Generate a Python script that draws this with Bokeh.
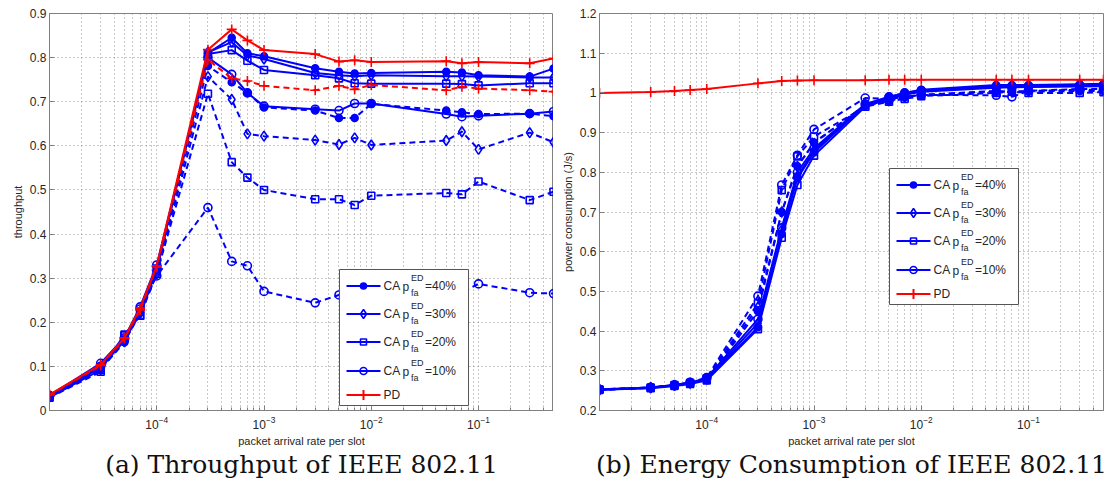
from bokeh.plotting import figure
from bokeh.models import Range1d, FixedTicker, Label, Title
from bokeh.layouts import row
from bokeh.embed import file_html
from bokeh.resources import INLINE
import math

# ---------------- data ----------------
x_rate = [1e-5, 3e-5, 5e-5, 7e-5, 1e-4, 3e-4, 5e-4, 7e-4, 1e-3, 3e-3,
          5e-3, 7e-3, 1e-2, 5e-2, 7e-2, 1e-1, 3e-1, 5e-1]

# (a) throughput
thr_pd      = [0.036, 0.104, 0.165, 0.232, 0.328, 0.818, 0.864, 0.839, 0.817, 0.808, 0.791, 0.794, 0.790, 0.792, 0.787, 0.790, 0.787, 0.798]
thr_pd_d    = [0.035, 0.102, 0.163, 0.228, 0.325, 0.795, 0.753, 0.747, 0.736, 0.726, 0.736, 0.728, 0.738, 0.726, 0.734, 0.730, 0.726, 0.723]
thr_ca40    = [0.033, 0.100, 0.160, 0.225, 0.320, 0.810, 0.845, 0.810, 0.803, 0.776, 0.768, 0.764, 0.765, 0.768, 0.766, 0.760, 0.757, 0.775]
thr_ca30    = [0.032, 0.098, 0.158, 0.222, 0.318, 0.812, 0.835, 0.805, 0.797, 0.765, 0.760, 0.758, 0.760, 0.758, 0.758, 0.757, 0.755, 0.755]
thr_ca20    = [0.030, 0.092, 0.172, 0.215, 0.322, 0.808, 0.817, 0.793, 0.772, 0.760, 0.753, 0.742, 0.741, 0.741, 0.740, 0.737, 0.742, 0.742]
thr_ca10    = [0.034, 0.107, 0.165, 0.235, 0.330, 0.800, 0.762, 0.720, 0.690, 0.683, 0.680, 0.696, 0.696, 0.672, 0.666, 0.668, 0.673, 0.678]
thr_ca40_d  = [0.032, 0.095, 0.155, 0.225, 0.315, 0.781, 0.744, 0.720, 0.687, 0.680, 0.663, 0.663, 0.695, 0.680, 0.676, 0.672, 0.673, 0.667]
thr_ca30_d  = [0.031, 0.093, 0.156, 0.220, 0.310, 0.757, 0.705, 0.627, 0.622, 0.613, 0.603, 0.618, 0.602, 0.612, 0.632, 0.592, 0.630, 0.608]
thr_ca20_d  = [0.029, 0.088, 0.170, 0.215, 0.310, 0.718, 0.563, 0.528, 0.500, 0.479, 0.479, 0.466, 0.487, 0.493, 0.490, 0.519, 0.477, 0.496]
thr_ca10_d  = [0.033, 0.100, 0.160, 0.230, 0.305, 0.460, 0.338, 0.328, 0.270, 0.244, 0.262, 0.265, 0.270, 0.272, 0.268, 0.287, 0.267, 0.265]

# (b) power consumption
pow_pd      = [1.000, 1.002, 1.005, 1.007, 1.010, 1.024, 1.030, 1.031, 1.032, 1.032, 1.033, 1.033, 1.033, 1.033, 1.033, 1.033, 1.033, 1.033]
pow_ca40    = [0.252, 0.257, 0.263, 0.268, 0.278, 0.410, 0.645, 0.785, 0.850, 0.970, 0.990, 1.000, 1.008, 1.020, 1.020, 1.020, 1.022, 1.023]
pow_ca30    = [0.253, 0.258, 0.264, 0.269, 0.280, 0.420, 0.655, 0.790, 0.855, 0.968, 0.988, 0.998, 1.005, 1.017, 1.017, 1.018, 1.020, 1.020]
pow_ca20    = [0.252, 0.256, 0.262, 0.267, 0.276, 0.405, 0.635, 0.768, 0.842, 0.965, 0.985, 0.995, 1.003, 1.013, 1.014, 1.015, 1.016, 1.017]
pow_ca10    = [0.253, 0.258, 0.264, 0.270, 0.282, 0.430, 0.660, 0.800, 0.860, 0.972, 0.990, 1.000, 1.006, 1.015, 1.015, 1.016, 1.018, 1.019]
pow_ca40_d  = [0.252, 0.257, 0.263, 0.269, 0.279, 0.450, 0.700, 0.815, 0.875, 0.968, 0.980, 0.990, 0.995, 1.003, 1.003, 1.004, 1.005, 1.005]
pow_ca30_d  = [0.252, 0.257, 0.263, 0.269, 0.279, 0.460, 0.700, 0.815, 0.873, 0.970, 0.980, 0.990, 0.995, 1.005, 1.002, 1.005, 1.008, 1.008]
pow_ca20_d  = [0.253, 0.258, 0.264, 0.270, 0.281, 0.470, 0.755, 0.840, 0.890, 0.965, 0.978, 0.985, 0.992, 1.000, 1.003, 1.000, 1.000, 1.002]
pow_ca10_d  = [0.253, 0.258, 0.264, 0.271, 0.283, 0.488, 0.768, 0.843, 0.908, 0.987, 0.985, 0.990, 0.995, 0.994, 0.990, 1.005, 1.010, 1.010]

legend_labels = ["40%", "30%", "20%", "10%"]
x_major_ticks = [1e-4, 1e-3, 1e-2, 1e-1]
thr_yticks = [0, 0.1, 0.2, 0.3, 0.4, 0.5, 0.6, 0.7, 0.8, 0.9]
pow_yticks = [0.2, 0.3, 0.4, 0.5, 0.6, 0.7, 0.8, 0.9, 1, 1.1, 1.2]

# ---------------- styling / layout ----------------
BLUE = "#0000ff"
RED = "#ff0000"
FONT = "Liberation Sans"
FW, FH = 504, 397
XMIN, XMAX = 1e-5, 0.5
LX0, LX1 = math.log10(XMIN), math.log10(XMAX)

minor = []
for e in range(-5, 0):
    for m in range(2, 10):
        v = m * 10 ** e
        if XMIN < v < XMAX:
            minor.append(v)

MARKERS = {
    "40%": dict(marker="circle", size=7, fill="full"),
    "30%": dict(marker="diamond", size=10, fill="none"),
    "20%": dict(marker="square", size=7, fill="none"),
    "10%": dict(marker="circle", size=8, fill="none"),
}


def draw_series(p, xs, ys, color, marker, size, fill, dash):
    p.line(xs, ys, line_color=color, line_width=2, line_dash=dash)
    p.scatter(xs, ys, marker=marker, size=size, line_color=color, line_width=1.6,
              fill_color=color if fill == "full" else None)


def make_fig(y0, y1, yticks, ylabel, caption, border_left, border_right, overrides):
    p = figure(x_axis_type="log", x_range=Range1d(XMIN, XMAX), y_range=Range1d(y0, y1),
               frame_width=FW, frame_height=FH, min_border_left=border_left,
               min_border_right=border_right, min_border_top=13, min_border_bottom=71,
               output_backend="svg", toolbar_location=None)
    p.background_fill_color = "white"
    p.border_fill_color = "white"
    p.outline_line_color = "#808080"
    p.outline_line_width = 1
    p.xaxis.ticker = FixedTicker(ticks=x_major_ticks, minor_ticks=minor)
    p.yaxis.ticker = FixedTicker(ticks=yticks)
    p.yaxis.major_label_overrides = overrides
    for ax in (p.xaxis[0], p.yaxis[0]):
        ax.axis_line_color = "#808080"
        ax.major_tick_line_color = "#808080"
        ax.minor_tick_line_color = "#808080"
        ax.major_tick_in = 5
        ax.major_tick_out = 0
        ax.minor_tick_in = 3
        ax.minor_tick_out = 0
        ax.major_label_text_font = FONT
        ax.major_label_text_color = "#262626"
        ax.axis_label_text_font = FONT
        ax.axis_label_text_font_style = "normal"
        ax.axis_label_text_color = "#262626"
        ax.axis_label_text_font_size = "11px"
    p.yaxis.minor_tick_line_color = None
    p.xaxis.major_label_text_font_size = "12px"
    p.yaxis.major_label_text_font_size = "12px"
    p.xaxis.major_label_standoff = 5
    p.yaxis.major_label_standoff = 3
    p.xaxis.axis_label = "packet arrival rate per slot"
    p.xaxis.axis_label_standoff = 3
    p.yaxis.axis_label = ylabel
    p.yaxis.axis_label_standoff = 3
    for g in (p.xgrid, p.ygrid):
        g.grid_line_color = "#909090"
        g.grid_line_dash = "1 3"
        g.grid_line_width = 1
    p.xgrid.minor_grid_line_color = "#909090"
    p.xgrid.minor_grid_line_dash = "1 3"
    p.add_layout(Title(text=caption, align="center", text_font="DejaVu Serif",
                       text_font_size="25px", text_font_style="normal",
                       text_color="#111111", standoff=-4), "below")
    return p


def px2x(px):
    return 10 ** (LX0 + px / FW * (LX1 - LX0))


def py2y(py, y0, y1):
    return y1 - py / FH * (y1 - y0)


def add_legend(p, bx, by, y0, y1):
    # bx, by: box top-left in frame pixels (from frame left / top)
    bw, bh = 129, 136
    p.quad(left=[px2x(bx)], right=[px2x(bx + bw)], top=[py2y(by, y0, y1)],
           bottom=[py2y(by + bh, y0, y1)], fill_color="white", line_color="#555555",
           line_width=1)
    rows = [16.5, 44.5, 72.5, 101.5, 125.5]
    for i, r in enumerate(rows):
        yy = py2y(by + r, y0, y1)
        color = BLUE if i < 4 else RED
        p.line([px2x(bx + 7), px2x(bx + 41)], [yy, yy], line_color=color, line_width=2)
        if i < 4:
            mk = MARKERS[legend_labels[i]]
            p.scatter([px2x(bx + 24)], [yy], marker=mk["marker"], size=mk["size"] - 1,
                      line_color=color, line_width=1.6,
                      fill_color=color if mk["fill"] == "full" else None)
            parts = [("CA", 44, 0, "12px"), ("p", 63, 0.5, "12px"),
                     ("ED", 71.5, -8, "9px"), ("fa", 71.5, 6.5, "9px"),
                     ("=" + legend_labels[i], 85.5, 0, "12px")]
            for txt, ox, oy, fs in parts:
                p.add_layout(Label(x=px2x(bx + ox), y=py2y(by + r + oy, y0, y1), text=txt,
                                   text_font=FONT, text_font_size=fs, text_color="#262626",
                                   text_baseline="middle", text_align="left"))
        else:
            p.scatter([px2x(bx + 24)], [yy], marker="cross", size=10, line_color=color,
                      line_width=2)
            p.add_layout(Label(x=px2x(bx + 44), y=yy, text="PD", text_font=FONT,
                               text_font_size="12px", text_color="#262626",
                               text_baseline="middle", text_align="left"))


def plot_panel(p, dashed, solid, pd_solid, pd_dashed):
    for lab, ys in zip(legend_labels, dashed):
        mk = MARKERS[lab]
        draw_series(p, x_rate, ys, BLUE, mk["marker"], mk["size"], mk["fill"], "6 4")
    for lab, ys in zip(legend_labels, solid):
        mk = MARKERS[lab]
        draw_series(p, x_rate, ys, BLUE, mk["marker"], mk["size"], mk["fill"], "solid")
    if pd_dashed is not None:
        draw_series(p, x_rate, pd_dashed, RED, "cross", 10, "none", "6 4")
    draw_series(p, x_rate, pd_solid, RED, "cross", 10, "none", "solid")


# left panel
p1 = make_fig(0, 0.9, thr_yticks, "throughput", "(a) Throughput of IEEE 802.11", 49, 0,
              {0: "0"})
plot_panel(p1, [thr_ca40_d, thr_ca30_d, thr_ca20_d, thr_ca10_d],
           [thr_ca40, thr_ca30, thr_ca20, thr_ca10], thr_pd, thr_pd_d)
add_legend(p1, 290, 256, 0, 0.9)

# right panel
p2 = make_fig(0.2, 1.2, pow_yticks, "power consumption (J/s)",
              "(b) Energy Consumption of IEEE 802.11", 46, 6, {1: "1"})
plot_panel(p2, [pow_ca40_d, pow_ca30_d, pow_ca20_d, pow_ca10_d],
           [pow_ca40, pow_ca30, pow_ca20, pow_ca10], pow_pd, None)
add_legend(p2, 290, 155, 0.2, 1.2)

layout = row(p1, p2, spacing=0)
open("out.html", "w").write(file_html(layout, INLINE))
